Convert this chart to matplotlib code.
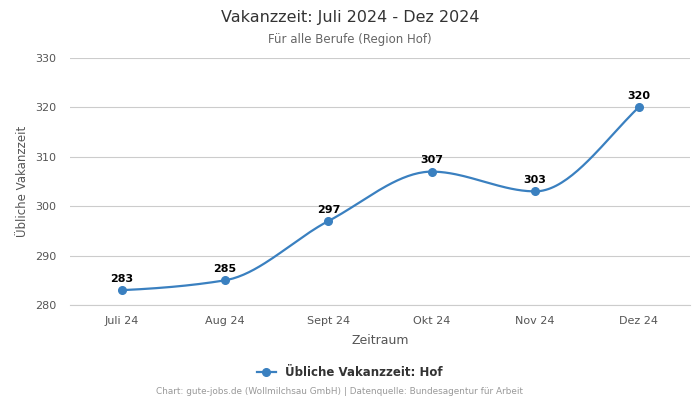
import numpy as np
import matplotlib
matplotlib.use("Agg")
import matplotlib.pyplot as plt
from matplotlib.lines import Line2D

categories = ["Juli 24", "Aug 24", "Sept 24", "Okt 24", "Nov 24", "Dez 24"]
values = [283, 285, 297, 307, 303, 320]
y_ticks = [280, 290, 300, 310, 320, 330]

def pchip(x, y, n=40):
    x = np.asarray(x, float); y = np.asarray(y, float)
    h = np.diff(x); d = np.diff(y) / h
    m = np.zeros_like(y)
    for k in range(1, len(y) - 1):
        if d[k-1] * d[k] > 0:
            w1 = 2*h[k] + h[k-1]; w2 = h[k] + 2*h[k-1]
            m[k] = (w1 + w2) / (w1 / d[k-1] + w2 / d[k])
    m[0] = d[0] * 0.5
    m[-1] = d[-1] * 1.2
    xs, ys = [], []
    for k in range(len(x) - 1):
        t = np.linspace(0, 1, n)
        h00 = 2*t**3 - 3*t**2 + 1; h10 = t**3 - 2*t**2 + t
        h01 = -2*t**3 + 3*t**2; h11 = t**3 - t**2
        xs.append(x[k] + t*h[k])
        ys.append(h00*y[k] + h10*h[k]*m[k] + h01*y[k+1] + h11*h[k]*m[k+1])
    return np.concatenate(xs), np.concatenate(ys)

color = "#3a80c0"
fig = plt.figure(figsize=(7, 4), dpi=100)
ax = fig.add_axes([0.1, 0.2375, 0.886, 0.6175])
x = np.arange(len(categories))
sx, sy = pchip(x, values)
ax.plot(sx, sy, color=color, lw=1.6, zorder=3)
ax.plot(x, values, "o", color=color, ms=5.5, zorder=4)
for xi, v in zip(x, values):
    ax.annotate(str(v), (xi, v), xytext=(0, 4.5), textcoords="offset points",
                ha="center", va="bottom", fontsize=8, fontweight="bold", color="#000")
ax.set_xlim(-0.5, 5.5)
ax.set_ylim(280, 330)
ax.set_yticks(y_ticks)
ax.set_xticks(x)
ax.set_xticklabels(categories)
ax.tick_params(axis="both", length=0, labelsize=8, colors="#555", pad=8)
ax.tick_params(axis="y", pad=10)
ax.grid(axis="y", color="#cccccc", lw=0.8)
for s in ["top", "right", "left"]:
    ax.spines[s].set_visible(False)
ax.spines["bottom"].set_color("#cccccc")
ax.set_xlabel("Zeitraum", fontsize=9, color="#555", labelpad=6)
ax.set_ylabel("Übliche Vakanzzeit", fontsize=8.5, color="#555", labelpad=4)

fig.text(0.5, 0.957, "Vakanzzeit: Juli 2024 - Dez 2024", ha="center", va="center",
         fontsize=11.5, color="#333")
fig.text(0.5, 0.902, "Für alle Berufe (Region Hof)", ha="center", va="center",
         fontsize=8.5, color="#666")
h = Line2D([], [], color=color, marker="o", lw=1.6, ms=5.5)
fig.legend([h], ["Übliche Vakanzzeit: Hof"], loc="center", bbox_to_anchor=(0.5, 0.068),
           frameon=False, prop={"size": 8.5, "weight": "bold"}, handlelength=1.6,
           labelcolor="#333")
fig.text(0.485, 0.02, "Chart: gute-jobs.de (Wollmilchsau GmbH) | Datenquelle: Bundesagentur für Arbeit",
         ha="center", va="center", fontsize=6.4, color="#999")
fig.savefig("out.png", dpi=100)
